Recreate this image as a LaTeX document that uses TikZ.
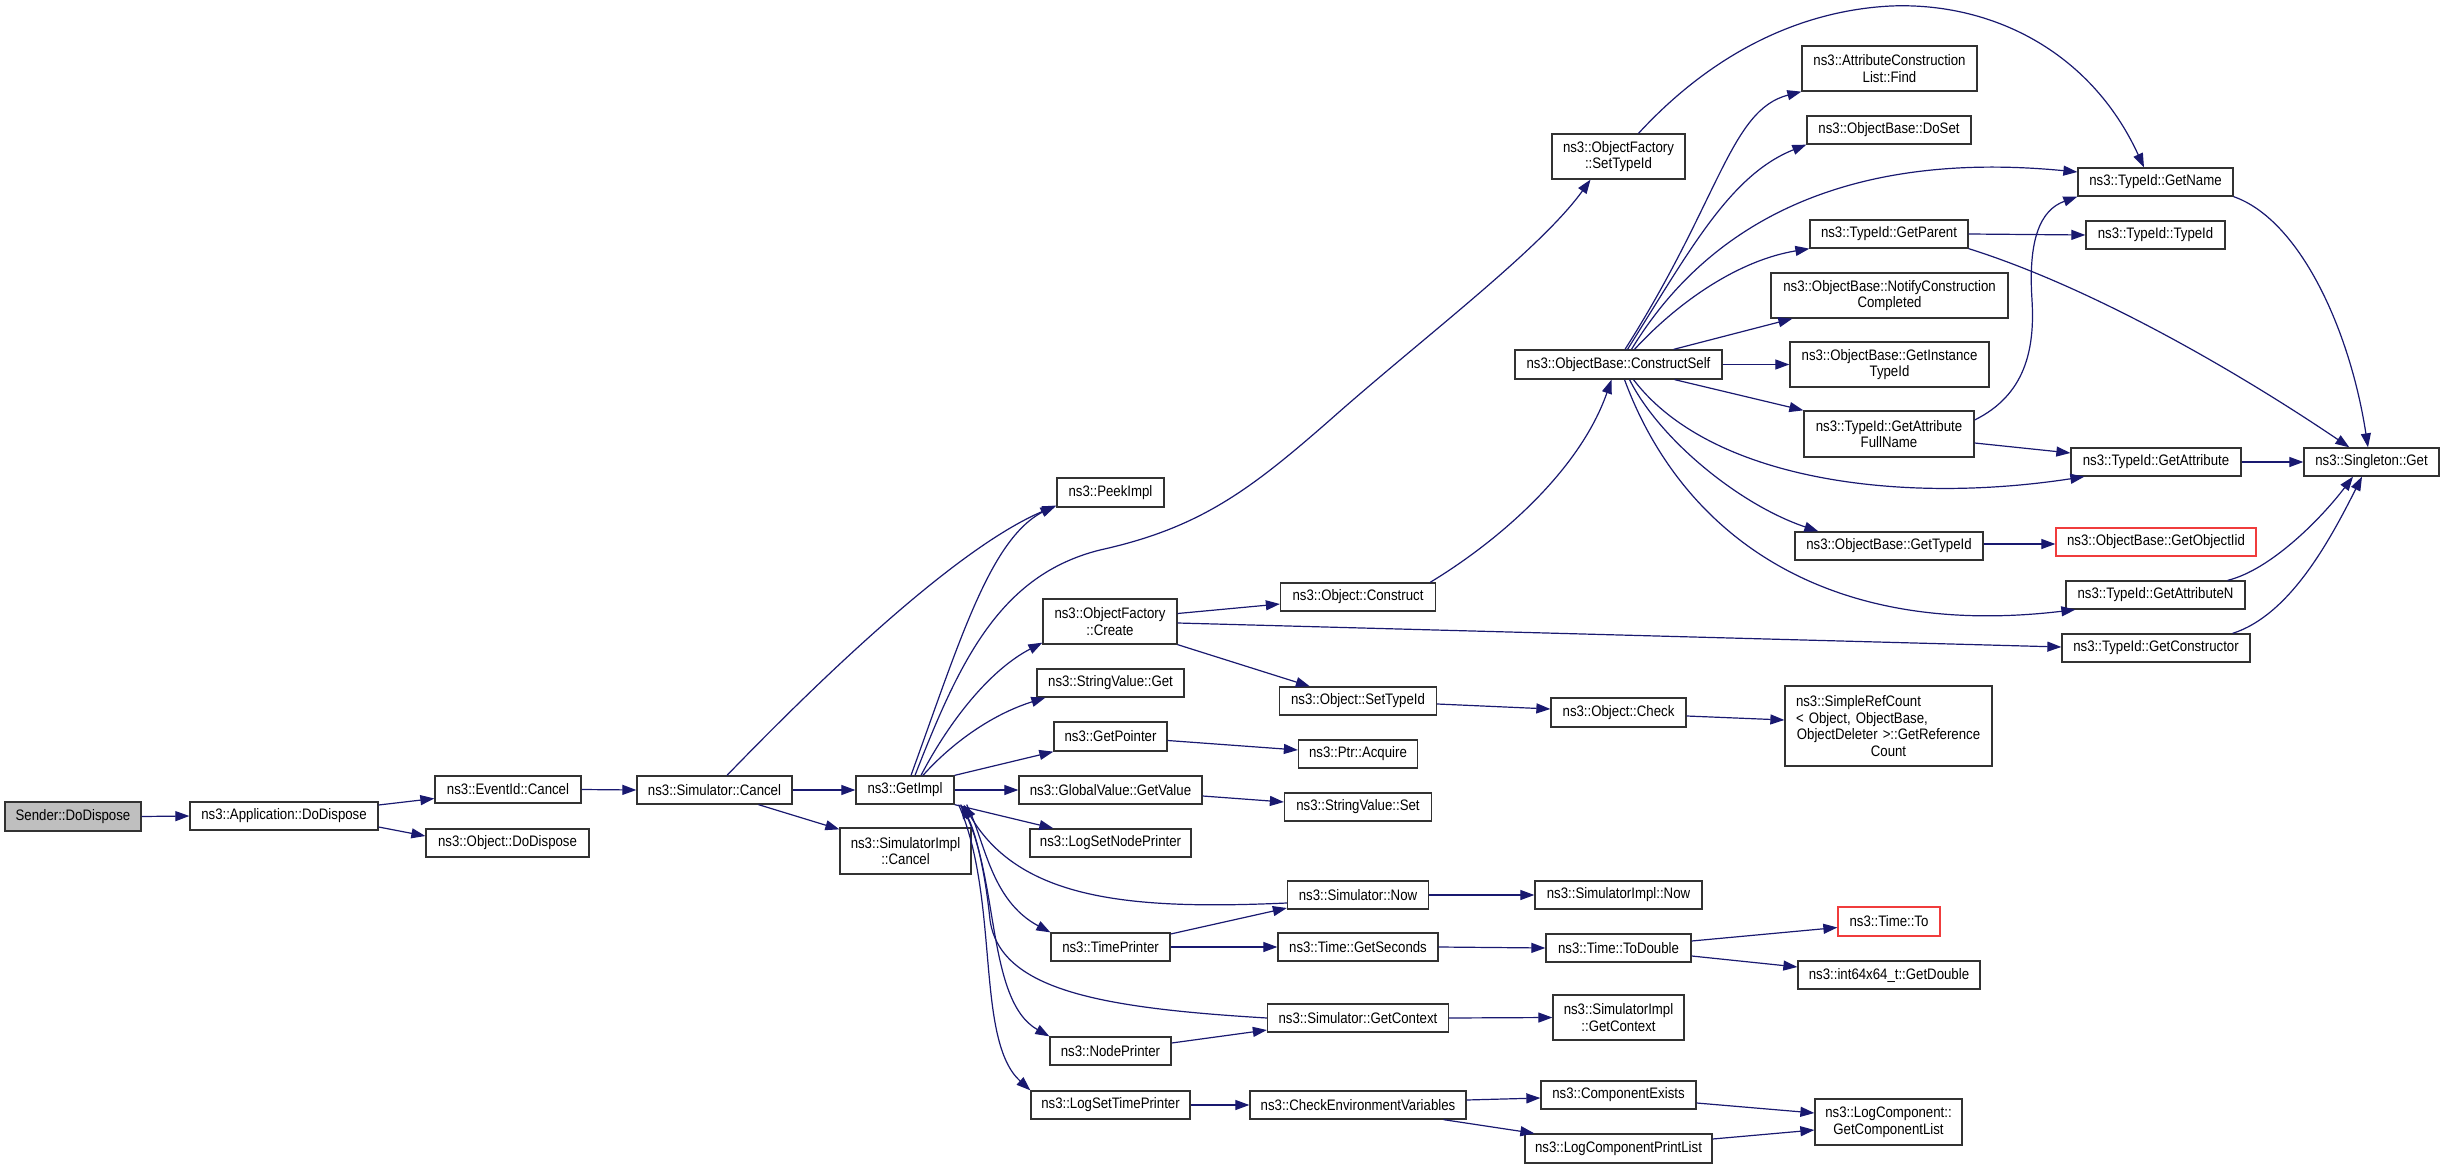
\documentclass[tikz,border=0pt]{standalone}
\usepackage{fontspec}
\setmainfont{Liberation Sans}[FakeStretch=0.87]
\usetikzlibrary{arrows.meta}
\definecolor{midnight}{RGB}{25,25,112}
\definecolor{boxline}{RGB}{50,50,50}
\definecolor{rootfill}{RGB}{191,191,191}
\definecolor{truncred}{RGB}{240,60,60}
\begin{document}
\begin{tikzpicture}[x=1pt,y=-1pt,
  box/.style={draw=boxline, line width=1.3pt, fill=white, inner sep=0pt, align=center,
    minimum height=28pt, font=\fontsize{15.2}{16.7}\selectfont},
  two/.style={minimum height=45pt},
  e/.style={draw=midnight, line width=1.2pt, -{Triangle[length=14pt,width=10pt]}}]
\fill[white] (0,0) rectangle (2445,1169);
\useasboundingbox (0,0) rectangle (2445,1169);
% column 1-5
\node[box, minimum width=136pt, minimum height=29pt, fill=rootfill] (sender) at (73,816.5) {Sender::DoDispose};
\node[box, minimum width=188pt] (appdd) at (284,816) {ns3::Application::DoDispose};
\node[box, minimum width=146pt, minimum height=27pt] (evcancel) at (508,789.5) {ns3::EventId::Cancel};
\node[box, minimum width=163pt] (objdd) at (507.5,843) {ns3::Object::DoDispose};
\node[box, minimum width=155pt] (simcancel) at (714.5,790) {ns3::Simulator::Cancel};
\node[box, minimum width=131pt, minimum height=46pt] (simimplcancel) at (905.5,851) {ns3::SimulatorImpl\\::Cancel};
\node[box, minimum width=98pt] (getimpl) at (905,790) {ns3::GetImpl};
% column 6
\node[box, minimum width=107pt, minimum height=29pt] (peekimpl) at (1110.5,492.5) {ns3::PeekImpl};
\node[box, two, minimum width=134pt] (ofcreate) at (1110,621.5) {ns3::ObjectFactory\\::Create};
\node[box, minimum width=147pt] (svget) at (1110.5,683) {ns3::StringValue::Get};
\node[box, minimum width=113pt, minimum height=29pt] (getpointer) at (1110.5,736.5) {ns3::GetPointer};
\node[box, minimum width=183pt] (gvgetvalue) at (1110.5,790) {ns3::GlobalValue::GetValue};
\node[box, minimum width=161pt] (logsetnodeprinter) at (1110.5,843) {ns3::LogSetNodePrinter};
\node[box, minimum width=119pt] (timeprinter) at (1110.5,947) {ns3::TimePrinter};
\node[box, minimum width=121pt] (nodeprinter) at (1110.5,1051) {ns3::NodePrinter};
\node[box, minimum width=159pt] (logsettimeprinter) at (1110.5,1105) {ns3::LogSetTimePrinter};
% column 7
\node[box, minimum width=155pt] (objconstruct) at (1358,597) {ns3::Object::Construct};
\node[box, minimum width=157pt] (objsettypeid) at (1358,701) {ns3::Object::SetTypeId};
\node[box, minimum width=119pt] (ptracquire) at (1358,754) {ns3::Ptr::Acquire};
\node[box, minimum width=147pt] (svset) at (1358,807) {ns3::StringValue::Set};
\node[box, minimum width=141pt] (simnow) at (1358,895) {ns3::Simulator::Now};
\node[box, minimum width=160pt] (gettseconds) at (1358,947) {ns3::Time::GetSeconds};
\node[box, minimum width=181pt] (simgetcontext) at (1358,1018) {ns3::Simulator::GetContext};
\node[box, minimum width=216pt] (checkenv) at (1358,1105) {ns3::CheckEnvironmentVariables};
% column 8
\node[box, two, minimum width=133pt] (ofsettypeid) at (1618.5,156.5) {ns3::ObjectFactory\\::SetTypeId};
\node[box, minimum width=207pt, minimum height=29pt] (constructself) at (1618.5,364.5) {ns3::ObjectBase::ConstructSelf};
\node[box, minimum width=135pt, minimum height=29pt] (objcheck) at (1618.5,712.5) {ns3::Object::Check};
\node[box, minimum width=167pt] (simimplnow) at (1618.5,895) {ns3::SimulatorImpl::Now};
\node[box, minimum width=145pt] (todouble) at (1618.5,948) {ns3::Time::ToDouble};
\node[box, two, minimum width=131pt] (simimplgetcontext) at (1618.5,1017.5) {ns3::SimulatorImpl\\::GetContext};
\node[box, minimum width=155pt] (compexists) at (1618.5,1095) {ns3::ComponentExists};
\node[box, minimum width=187pt, minimum height=29pt] (logcompprintlist) at (1618.5,1148.5) {ns3::LogComponentPrintList};
% column 9
\node[box, two, minimum width=175pt] (attrfind) at (1889.5,68.5) {ns3::AttributeConstruction\\List::Find};
\node[box, minimum width=164pt] (doset) at (1889,130) {ns3::ObjectBase::DoSet};
\node[box, minimum width=158pt] (getparent) at (1889,234) {ns3::TypeId::GetParent};
\node[box, two, minimum width=237pt] (notify) at (1889.5,295.5) {ns3::ObjectBase::NotifyConstruction\\Completed};
\node[box, two, minimum width=199pt] (getinsttypeid) at (1889.5,364.5) {ns3::ObjectBase::GetInstance\\TypeId};
\node[box, minimum width=170pt, minimum height=46pt] (getattrfullname) at (1889,434) {ns3::TypeId::GetAttribute\\FullName};
\node[box, minimum width=188pt] (obgettypeid) at (1889,546) {ns3::ObjectBase::GetTypeId};
\node[box, minimum width=207pt, minimum height=80pt, text width=185pt, align=left] (simplerefcount) at (1888.5,726)
  {ns3::SimpleRefCount\\< Object, ObjectBase,\\\makebox[185pt]{ObjectDeleter >::GetReference}\\\makebox[185pt]{Count}};
\node[box, minimum width=102pt, minimum height=29pt, draw=truncred] (timeto) at (1889,921.5) {ns3::Time::To};
\node[box, minimum width=182pt] (getdouble) at (1889,975) {ns3::int64x64\_t::GetDouble};
\node[box, minimum width=147pt, minimum height=46pt] (getcomplist) at (1888.5,1122) {ns3::LogComponent::\\GetComponentList};
% column 10
\node[box, minimum width=155pt] (getname) at (2155.5,182) {ns3::TypeId::GetName};
\node[box, minimum width=139pt] (typeidtypeid) at (2155.5,235) {ns3::TypeId::TypeId};
\node[box, minimum width=170pt] (getattribute) at (2156,462) {ns3::TypeId::GetAttribute};
\node[box, minimum width=200pt, draw=truncred] (getobjectiid) at (2156,542) {ns3::ObjectBase::GetObjectIid};
\node[box, minimum width=179pt] (getattributen) at (2155.5,595) {ns3::TypeId::GetAttributeN};
\node[box, minimum width=188pt] (getconstructor) at (2156,648) {ns3::TypeId::GetConstructor};
% column 11
\node[box, minimum width=135pt] (singleton) at (2371.5,462) {ns3::Singleton::Get};

% edges
\draw[e] (sender.east) -- (appdd.west);
\draw[e] ([yshift=11pt]appdd.east) -- ([yshift=-9pt]evcancel.west);
\draw[e] ([yshift=-11pt]appdd.east) -- ([yshift=7pt]objdd.west);
\draw[e] (evcancel.east) -- (simcancel.west);
\draw[e] ([xshift=12.5pt]simcancel.north) .. controls (800,700) and (950,550) .. ([yshift=2pt]peekimpl.south west);
\draw[e] (simcancel.east) -- (getimpl.west);
\draw[e] ([xshift=44pt]simcancel.south) -- ([yshift=-2pt]simimplcancel.north west);
\draw[e] ([xshift=6pt]getimpl.north) .. controls (960,640) and (990,540) .. ([xshift=-2pt,yshift=2pt]peekimpl.south west);
\draw[e] ([xshift=10pt]getimpl.north) .. controls (960,660) and (1000,575) .. (1100,550)
   .. controls (1200,528) and (1250,490) .. (1330,420)
   .. controls (1420,340) and (1540,250) .. ([xshift=-28pt]ofsettypeid.south);
\draw[e] ([xshift=16pt]getimpl.north) .. controls (950,720) and (990,670) .. ([yshift=2pt]ofcreate.south west);
\draw[e] ([xshift=18pt]getimpl.north) .. controls (950,745) and (990,715) .. ([xshift=9pt]svget.south west);
\draw[e] (getimpl.north east) -- (getpointer.south west);
\draw[e] (getimpl.east) -- (gvgetvalue.west);
\draw[e] (getimpl.south east) -- ([xshift=24pt]logsetnodeprinter.north west);
\draw[e] ([xshift=12pt]getimpl.south east) .. controls (985,840) and (990,900) .. (timeprinter.north west);
\draw[e] ([xshift=6pt]getimpl.south east) .. controls (1000,870) and (985,1000) .. (nodeprinter.north west);
\draw[e] ([xshift=4pt]getimpl.south east) .. controls (1000,900) and (975,1040) .. (logsettimeprinter.north west);
\draw[e] ([yshift=-8pt]simnow.west) .. controls (1130,910) and (1020,900) .. ([xshift=9pt]getimpl.south east);
\draw[e] (simgetcontext.west) .. controls (1100,1008) and (1000,990) .. (990,920)
   .. controls (985,870) and (975,830) .. ([xshift=6pt]getimpl.south east);
\draw[e] ([yshift=13pt]timeprinter.east) -- ([yshift=-13pt]simnow.west);
\draw[e] (timeprinter.east) -- (gettseconds.west);
\draw[e] ([yshift=8pt]nodeprinter.east) -- ([yshift=-12pt]simgetcontext.west);
\draw[e] (logsettimeprinter.east) -- (checkenv.west);
\draw[e] ([yshift=8pt]ofcreate.east) -- ([yshift=-7pt]objconstruct.west);
\draw[e] ([yshift=-1.5pt]ofcreate.east) -- ([yshift=1pt]getconstructor.west);
\draw[e] (ofcreate.south east) -- ([xshift=31pt]objsettypeid.north west);
\draw[e] ([yshift=-4pt]getpointer.east) -- ([yshift=4pt]ptracquire.west);
\draw[e] ([yshift=-6pt]gvgetvalue.east) -- ([yshift=5pt]svset.west);
\draw[e] (simnow.east) -- (simimplnow.west);
\draw[e] (gettseconds.east) -- (todouble.west);
\draw[e] (simgetcontext.east) -- (simimplgetcontext.west);
\draw[e] ([yshift=5pt]checkenv.east) -- ([yshift=-3pt]compexists.west);
\draw[e] ([xshift=-23pt]checkenv.south east) -- ([xshift=10pt]logcompprintlist.north west);
\draw[e] ([xshift=-6pt]objconstruct.north east) .. controls (1500,540) and (1580,470) .. ([xshift=-7pt]constructself.south);
\draw[e] ([yshift=-3pt]objsettypeid.east) -- ([yshift=3.5pt]objcheck.west);
\draw[e] ([yshift=-3.5pt]objcheck.east) -- ([yshift=6pt]simplerefcount.west);
\draw[e] ([yshift=7pt]todouble.east) -- ([yshift=-6pt]timeto.west);
\draw[e] ([yshift=-8pt]todouble.east) -- ([yshift=8pt]getdouble.west);
\draw[e] ([yshift=-8pt]compexists.east) -- ([yshift=9pt]getcomplist.west);
\draw[e] ([yshift=9.5pt]logcompprintlist.east) -- ([yshift=-8pt]getcomplist.west);
\draw[e] ([xshift=20pt]ofsettypeid.north) .. controls (1720,45) and (1810,10) .. (1891,6)
   .. controls (1990,2) and (2090,50) .. ([xshift=-11.5pt]getname.north);
\draw[e] ([xshift=6.5pt]constructself.north) .. controls (1720,200) and (1730,110) .. (attrfind.south west);
\draw[e] ([xshift=9pt]constructself.north) .. controls (1690,250) and (1730,175) .. (doset.south west);
\draw[e] ([xshift=13pt]constructself.north) .. controls (1710,220) and (1850,150) .. ([yshift=10pt]getname.west);
\draw[e] ([xshift=16pt]constructself.north) .. controls (1680,300) and (1740,260) .. (getparent.south west);
\draw[e] ([xshift=-49pt]constructself.north east) -- ([xshift=22pt]notify.south west);
\draw[e] (constructself.east) -- (getinsttypeid.west);
\draw[e] ([xshift=-48pt]constructself.south east) -- (getattrfullname.north west);
\draw[e] ([xshift=15pt]constructself.south) .. controls (1710,480) and (1900,505) .. ([xshift=14pt]getattribute.south west);
\draw[e] ([xshift=11pt]constructself.south) .. controls (1660,440) and (1740,505) .. ([xshift=24pt]obgettypeid.north west);
\draw[e] ([xshift=6pt]constructself.south) .. controls (1680,530) and (1820,640) .. ([xshift=10pt]getattributen.south west);
\draw[e] (getparent.east) -- (typeidtypeid.west);
\draw[e] (getparent.south east) .. controls (2100,290) and (2250,380) .. ([xshift=46pt]singleton.north west);
\draw[e] ([yshift=14pt]getattrfullname.east) .. controls (2025,395) and (2035,350) .. (2032,300)
   .. controls (2028,240) and (2040,210) .. (getname.south west);
\draw[e] ([yshift=-9pt]getattrfullname.east) -- ([yshift=9pt]getattribute.west);
\draw[e] ([yshift=2pt]obgettypeid.east) -- ([yshift=-2pt]getobjectiid.west);
\draw[e] (getname.south east) .. controls (2300,220) and (2350,330) .. ([xshift=-3.5pt]singleton.north);
\draw[e] (getattribute.east) -- (singleton.west);
\draw[e] ([xshift=-18pt]getattributen.north east) .. controls (2270,570) and (2320,520) .. ([xshift=-18.5pt]singleton.south);
\draw[e] ([xshift=-18pt]getconstructor.north east) .. controls (2290,615) and (2330,540) .. ([xshift=-9.5pt]singleton.south);
\end{tikzpicture}
\end{document}
